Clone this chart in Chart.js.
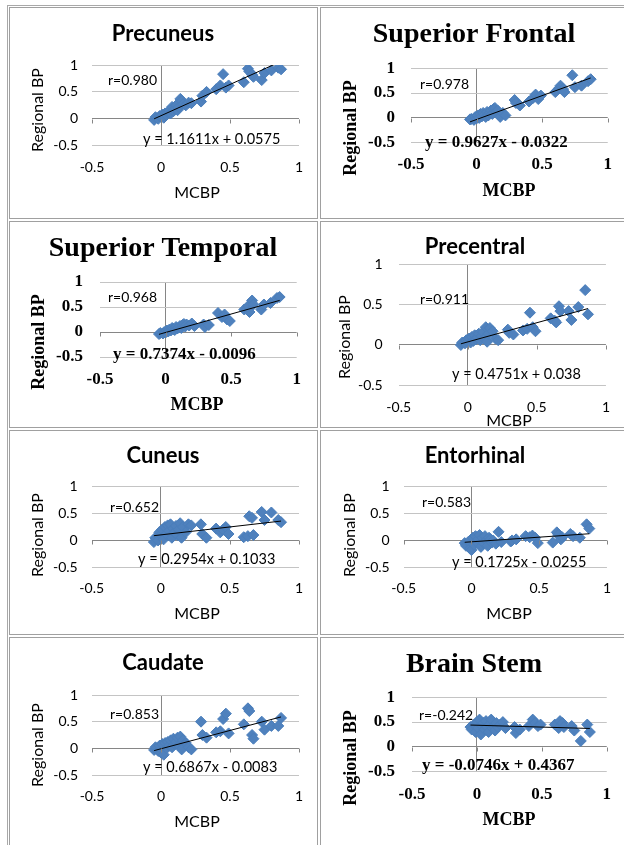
<!DOCTYPE html>
<html>
<head>
<meta charset="utf-8">
<script src="https://cdn.jsdelivr.net/npm/chart.js@4.4.1/dist/chart.umd.min.js"></script>
<style>
  body { margin: 0; background: #fff; width: 624px; height: 845px; overflow: hidden; position: relative; }
  .cell { position: absolute; border: 1px solid #a0a0a0; box-sizing: border-box; pointer-events: none; }
  .frame { position: absolute; left: 7px; top: 5px; width: 700px; height: 900px;
           border: 1px solid #a8a8a8; box-sizing: border-box; pointer-events: none; }
  canvas { position: absolute; }
</style>
</head>
<body>
<div class="frame"></div>
<script>
// ---- data ----
const regionNames = ["Precuneus", "Superior Frontal", "Superior Temporal", "Precentral",
                     "Cuneus", "Entorhinal", "Caudate", "Brain Stem"];

const mcbp = [-0.05, -0.04, -0.02, -0.01, 0.00, 0.01, 0.02, 0.03, 0.04, 0.05,
              0.06, 0.07, 0.08, 0.09, 0.10, 0.11, 0.12, 0.13, 0.14, 0.15,
              0.16, 0.18, 0.20, 0.22, 0.29, 0.30, 0.33, 0.40, 0.43, 0.45,
              0.47, 0.49, 0.60, 0.63, 0.64, 0.66, 0.67, 0.73, 0.75, 0.80,
              0.85, 0.87];

const precuneusBP = [-0.02, 0.03, 0.00, 0.05, 0.04, 0.08, 0.02, 0.10, 0.07, 0.12,
                     0.15, 0.10, 0.22, 0.14, 0.18, 0.25, 0.16, 0.22, 0.37, 0.33,
                     0.27, 0.25, 0.30, 0.29, 0.32, 0.43, 0.50, 0.55, 0.62, 0.83,
                     0.58, 0.62, 0.68, 0.93, 0.88, 0.82, 0.78, 0.72, 0.85, 0.90,
                     0.95, 0.92];
const superiorFrontalBP = [-0.03, -0.02, -0.04, 0.02, -0.01, 0.05, 0.00, 0.08, 0.03, 0.10,
                           0.06, 0.02, 0.12, 0.05, 0.10, 0.15, 0.08, 0.18, 0.20, 0.12,
                           0.15, 0.02, 0.10, 0.05, 0.36, 0.30, 0.25, 0.33, 0.40, 0.47,
                           0.38, 0.45, 0.52, 0.60, 0.65, 0.58, 0.52, 0.86, 0.62, 0.65,
                           0.74, 0.78];
const superiorTemporalBP = [-0.04, -0.02, -0.03, 0.00, -0.01, 0.03, 0.01, 0.05, 0.03, 0.08,
                            0.06, 0.04, 0.10, 0.07, 0.09, 0.12, 0.08, 0.14, 0.16, 0.11,
                            0.15, 0.13, 0.17, 0.12, 0.15, 0.10, 0.14, 0.38, 0.30, 0.35,
                            0.25, 0.22, 0.45, 0.52, 0.40, 0.63, 0.55, 0.45, 0.55, 0.58,
                            0.68, 0.70];
const precentralBP = [0.00, 0.03, 0.02, 0.06, 0.04, 0.08, 0.03, 0.10, 0.05, 0.12,
                      0.07, 0.09, 0.14, 0.06, 0.11, 0.16, 0.08, 0.22, 0.04, 0.14,
                      0.21, 0.17, 0.08, 0.06, 0.19, 0.15, 0.13, 0.18, 0.20, 0.40,
                      0.22, 0.17, 0.33, 0.30, 0.28, 0.48, 0.42, 0.42, 0.31, 0.47,
                      0.68, 0.38];
const cuneusBP = [-0.03, 0.05, 0.00, 0.15, 0.10, 0.20, 0.02, 0.25, 0.12, 0.28,
                  0.18, 0.30, 0.05, 0.22, 0.15, 0.27, 0.10, 0.20, 0.32, 0.05,
                  0.25, 0.15, 0.30, 0.28, 0.30, 0.12, 0.05, 0.22, 0.15, 0.20,
                  0.25, 0.12, 0.06, 0.08, 0.45, 0.42, 0.10, 0.53, 0.38, 0.52,
                  0.38, 0.34];
const entorhinalBP = [-0.05, -0.10, -0.02, -0.15, -0.18, 0.05, -0.08, 0.08, -0.03, 0.02,
                      0.10, -0.12, 0.05, -0.05, 0.08, 0.00, -0.10, 0.05, 0.02, -0.04,
                      0.00, -0.06, 0.16, -0.03, -0.02, 0.00, 0.02, 0.08, 0.06, 0.09,
                      0.05, -0.05, -0.04, 0.15, 0.10, 0.02, 0.06, 0.12, 0.08, 0.05,
                      0.30, 0.22];
const caudateBP = [-0.03, 0.02, -0.05, 0.05, -0.08, 0.08, -0.12, 0.10, 0.00, 0.12,
                   0.05, 0.15, 0.02, 0.18, 0.08, 0.12, 0.20, 0.05, 0.22, -0.02,
                   0.15, 0.10, 0.02, -0.02, 0.50, 0.25, 0.20, 0.30, 0.32, 0.55,
                   0.65, 0.28, 0.45, 0.75, 0.70, 0.25, 0.18, 0.50, 0.35, 0.42,
                   0.42, 0.57];
const brainStemBP = [0.40, 0.35, 0.45, 0.30, 0.50, 0.38, 0.55, 0.25, 0.42, 0.48,
                     0.35, 0.52, 0.40, 0.30, 0.45, 0.55, 0.38, 0.42, 0.33, 0.48,
                     0.40, 0.45, 0.50, 0.38, 0.40, 0.28, 0.35, 0.42, 0.55, 0.48,
                     0.42, 0.45, 0.45, 0.38, 0.52, 0.48, 0.40, 0.42, 0.33, 0.12,
                     0.45, 0.30];

const slopes = [1.1611, 0.9627, 0.7374, 0.4751, 0.2954, 0.1725, 0.6867, -0.0746];
const intercepts = [0.0575, -0.0322, -0.0096, 0.038, 0.1033, -0.0255, -0.0083, 0.4367];
const rLabels = ["r=0.980", "r=0.978", "r=0.968", "r=0.911", "r=0.652", "r=0.583", "r=0.853", "r=-0.242"];
const eqLabels = ["y = 1.1611x + 0.0575", "y = 0.9627x - 0.0322", "y = 0.7374x - 0.0096",
                  "y = 0.4751x + 0.038", "y = 0.2954x + 0.1033", "y = 0.1725x - 0.0255",
                  "y = 0.6867x - 0.0083", "y = -0.0746x + 0.4367"];
const axisTicks = [-0.5, 0, 0.5, 1];
const xTitle = "MCBP";
const yTitle = "Regional BP";

const regionBP = [precuneusBP, superiorFrontalBP, superiorTemporalBP, precentralBP,
                  cuneusBP, entorhinalBP, caudateBP, brainStemBP];

// ---- layout (page pixels) ----
const cols = [[10, 307], [321, 303]];
const rows = [[8, 210], [222, 205], [431, 203], [638, 207]];
const layoutInfo = [
  { plot: [92, 65, 299, 145.7], serif: false, yPad: 14, xPad: 13,
    title: [163, 34], r: [108, 80], eq: [143, 139], yT: [38, 110], xT: [197, 193] },
  { plot: [411, 68.3, 608.7, 142.7], serif: true, yPad: 16, xPad: 12,
    title: [474, 35], r: [420, 84], eq: [425, 143], yT: [351, 128], xT: [509, 191] },
  { plot: [100, 282, 296.7, 357], serif: true, yPad: 17, xPad: 12,
    title: [163, 249], r: [108, 297], eq: [113, 355], yT: [39, 342], xT: [197, 405] },
  { plot: [398.7, 264.3, 617, 385.3], serif: false, yPad: 16, xPad: 14,
    title: [475, 247], r: [420, 299], eq: [452, 374], yT: [345, 337], xT: [509, 421] },
  { plot: [91.7, 486.7, 299, 567.3], serif: false, yPad: 14, xPad: 13,
    title: [163, 456], r: [110, 507], eq: [138, 559], yT: [38, 535], xT: [197, 614] },
  { plot: [403.7, 486.7, 611, 567.3], serif: false, yPad: 14, xPad: 13,
    title: [475, 456], r: [422, 502], eq: [452, 562], yT: [350, 535], xT: [509, 614] },
  { plot: [92, 695, 299, 775], serif: false, yPad: 14, xPad: 13,
    title: [163, 663], r: [110, 714], eq: [143, 767], yT: [38, 745], xT: [197, 822] },
  { plot: [412, 697.3, 608.7, 771.7], serif: true, yPad: 17, xPad: 13,
    title: [474, 665], r: [419, 715], eq: [422, 766], yT: [351, 758], xT: [509, 820] }
];

const SANS = 'Lato, "Open Sans", sans-serif';
const SERIF = '"Liberation Serif", serif';
const gridColor = '#c4c4c4';
const axisColor = '#868686';

// borders of the table cells
function addCell(x, y, w, h) {
  const d = document.createElement('div');
  d.className = 'cell';
  d.style.left = x + 'px'; d.style.top = y + 'px';
  d.style.width = w + 'px'; d.style.height = h + 'px';
  document.body.appendChild(d);
}

const textPlugin = {
  id: 'panelText',
  afterDraw(chart, args, opts) {
    const ctx = chart.ctx;
    const ox = opts.ox, oy = opts.oy;
    // small tick marks on the horizontal axis (crossing at y = 0)
    const xs = chart.scales.x, ys = chart.scales.y;
    const y0 = Math.round(ys.getPixelForValue(0)) + 0.5;
    ctx.save();
    ctx.strokeStyle = axisColor;
    ctx.lineWidth = 1;
    axisTicks.forEach(v => {
      const px = Math.round(xs.getPixelForValue(v)) + 0.5;
      ctx.beginPath(); ctx.moveTo(px, y0); ctx.lineTo(px, y0 + 4); ctx.stroke();
    });
    ctx.fillStyle = '#000';
    ctx.textBaseline = 'middle';
    opts.items.forEach(t => {
      ctx.save();
      ctx.font = t.font;
      ctx.textAlign = t.align || 'center';
      ctx.translate(t.x - ox, t.y - oy);
      if (t.rot) ctx.rotate(-Math.PI / 2);
      ctx.fillText(t.text, 0, 0);
      ctx.restore();
    });
    ctx.restore();
  }
};

layoutInfo.forEach((p, i) => {
  const [cx, cw] = cols[i % 2];
  const [cy, ch] = rows[Math.floor(i / 2)];
  addCell(cx - 1, cy - 1, cw + 2, ch + 2);

  const cv = document.createElement('canvas');
  cv.width = cw; cv.height = ch;
  cv.style.left = cx + 'px'; cv.style.top = cy + 'px';
  cv.style.width = cw + 'px'; cv.style.height = ch + 'px';
  document.body.insertBefore(cv, document.body.firstChild);

  const [l, t, r, b] = p.plot;
  const tickFont = p.serif ? { family: SERIF, size: 17, weight: 'bold' } : { family: SANS, size: 14 };
  const titleFont = p.serif ? 'bold 28px ' + SERIF : 'bold 22px ' + SANS;
  const axFont = p.serif ? 'bold 18px ' + SERIF : '16px ' + SANS;
  const eqFont = p.serif ? 'bold 17px ' + SERIF : '14.5px ' + SANS;
  const rFont = '14px ' + SANS;

  const pts = mcbp.map((x, k) => ({ x: x, y: regionBP[i][k] }));
  const xmin = Math.min(...mcbp), xmax = Math.max(...mcbp);
  const trend = [{ x: xmin, y: slopes[i] * xmin + intercepts[i] },
                 { x: xmax, y: slopes[i] * xmax + intercepts[i] }];

  new Chart(cv, {
    type: 'scatter',
    data: {
      datasets: [
        { data: trend, showLine: true, borderColor: '#000', borderWidth: 1, pointRadius: 0, order: 0 },
        { data: pts, pointStyle: 'rectRot', pointRadius: 5.5, backgroundColor: '#4f81bd',
          borderColor: '#4a7ebb', borderWidth: 1, order: 1 }
      ]
    },
    options: {
      responsive: false,
      animation: false,
      events: [],
      layout: { padding: { left: 0, top: t - cy, right: cx + cw - r, bottom: 0 } },
      plugins: {
        legend: { display: false },
        tooltip: { enabled: false },
        panelText: {
          ox: cx, oy: cy,
          items: [
            { text: regionNames[i], x: p.title[0], y: p.title[1], font: titleFont },
            { text: rLabels[i], x: p.r[0], y: p.r[1], font: rFont, align: 'left' },
            { text: eqLabels[i], x: p.eq[0], y: p.eq[1], font: eqFont, align: 'left' },
            { text: yTitle, x: p.yT[0], y: p.yT[1], font: axFont, rot: true },
            { text: xTitle, x: p.xT[0], y: p.xT[1], font: axFont }
          ]
        }
      },
      scales: {
        x: {
          type: 'linear', min: -0.5, max: 1,
          afterBuildTicks: s => { s.ticks = axisTicks.map(v => ({ value: v })); },
          afterFit: s => { s.height = cy + ch - b; },
          grid: { color: c => (c.tick && c.tick.value === 0) ? axisColor : 'rgba(0,0,0,0)', drawTicks: false },
          border: { display: false },
          ticks: { padding: p.xPad, font: tickFont, color: '#000', maxRotation: 0, callback: v => String(v) }
        },
        y: {
          type: 'linear', min: -0.5, max: 1,
          afterBuildTicks: s => { s.ticks = axisTicks.map(v => ({ value: v })); },
          afterFit: s => { s.width = l - cx; },
          grid: { color: c => (c.tick && c.tick.value === 0) ? axisColor : gridColor, drawTicks: false },
          border: { display: false },
          ticks: { padding: p.yPad, font: tickFont, color: '#000', callback: v => String(v) }
        }
      }
    },
    plugins: [textPlugin]
  });
});
</script>
</body>
</html>
